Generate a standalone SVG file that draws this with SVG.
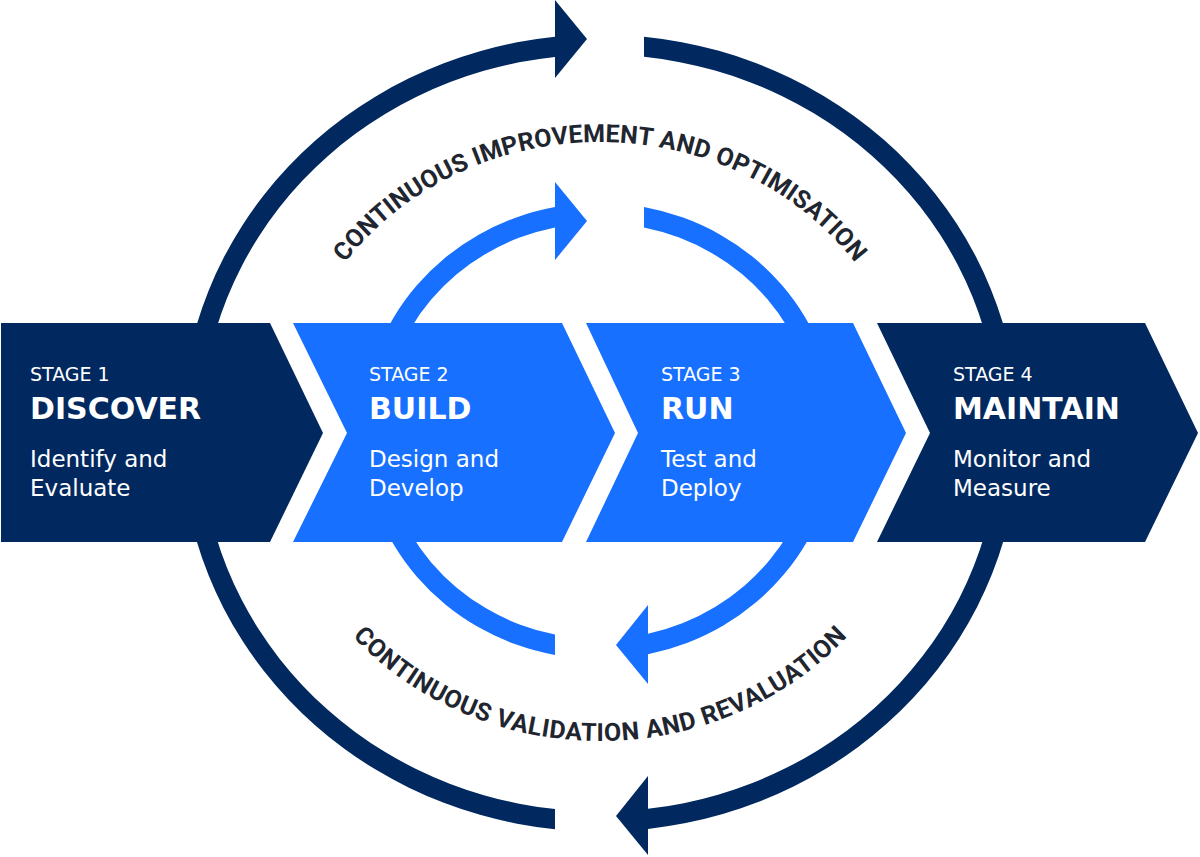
<svg xmlns="http://www.w3.org/2000/svg" width="1200" height="857" viewBox="0 0 1200 857">
  <style>
    .navy { fill: #01295f; }
    .blue { fill: #1770ff; }
    .st { font-family: "DejaVu Sans", "Liberation Sans", sans-serif; fill: #ffffff; }
    .stage { font-size: 19px; }
    .title { font-size: 30px; font-weight: bold; }
    .desc { font-size: 23px; }
    .arc { font-family: Roboto, "Liberation Sans", sans-serif; font-weight: 700; font-size: 25px; fill: #1f2630; }
  </style>
  <defs>
    <path id="arcTop" d="M 286,432 A 314 290 0 0 1 914,432" fill="none"/>
    <path id="arcBottom" d="M 270,432 A 330 309 0 0 0 930,432" fill="none"/>
  </defs>
  <rect width="1200" height="857" fill="#ffffff"/>

  <g id="connectors">
    <!-- outer ring -->
    <path class="navy" d="M 555,829.2 A 419 398.5 0 0 1 555,36.8 L 555,56.9 A 399 378.5 0 0 0 555,809.1 Z"/>
    <polygon class="navy" points="555,0 587,39 555,78"/>
    <path class="navy" d="M 644,36.7 A 419 398.5 0 0 1 648,828.9 L 648,808.8 A 399 378.5 0 0 0 644,56.8 Z"/>
    <polygon class="navy" points="648,776 616,816 648,855"/>
    <!-- inner ring -->
    <path class="blue" d="M 555,655 A 237 228 0 0 1 555,207 L 555,227.4 A 217 208 0 0 0 555,634.6 Z"/>
    <polygon class="blue" points="555,182 587,221 555,260"/>
    <path class="blue" d="M 644,207 A 237 228 0 0 1 648,654.2 L 648,633.7 A 217 208 0 0 0 644,227.4 Z"/>
    <polygon class="blue" points="648,605 616,645 648,684"/>
  </g>

  <g id="loop-labels">
    <text class="arc"><textPath href="#arcTop" startOffset="50%" text-anchor="middle" textLength="584" lengthAdjust="spacing">CONTINUOUS IMPROVEMENT AND OPTIMISATION</textPath></text>
    <text class="arc"><textPath href="#arcBottom" startOffset="50%" text-anchor="middle" textLength="552" lengthAdjust="spacing">CONTINUOUS VALIDATION AND REVALUATION</textPath></text>
  </g>

  <g id="stage1">
    <polygon class="navy" points="1,323 270,323 323,433 270,542 1,542"/>
    <text class="st stage" x="30" y="381">STAGE 1</text>
    <text class="st title" x="30" y="418.5">DISCOVER</text>
    <text class="st desc" x="30" y="467">Identify and</text>
    <text class="st desc" x="30" y="495.5">Evaluate</text>
  </g>

  <g id="stage2">
    <polygon class="blue" points="293,323 562,323 615,433 562,542 293,542 347,433"/>
    <text class="st stage" x="369" y="381">STAGE 2</text>
    <text class="st title" x="369" y="418.5">BUILD</text>
    <text class="st desc" x="369" y="467">Design and</text>
    <text class="st desc" x="369" y="495.5">Develop</text>
  </g>

  <g id="stage3">
    <polygon class="blue" points="586,323 853,323 906,433 853,542 586,542 638,433"/>
    <text class="st stage" x="661" y="381">STAGE 3</text>
    <text class="st title" x="661" y="418.5">RUN</text>
    <text class="st desc" x="661" y="467">Test and</text>
    <text class="st desc" x="661" y="495.5">Deploy</text>
  </g>

  <g id="stage4">
    <polygon class="navy" points="877,323 1145,323 1198,433 1145,542 877,542 930,433"/>
    <text class="st stage" x="953" y="381">STAGE 4</text>
    <text class="st title" x="953" y="418.5">MAINTAIN</text>
    <text class="st desc" x="953" y="467">Monitor and</text>
    <text class="st desc" x="953" y="495.5">Measure</text>
  </g>
</svg>
